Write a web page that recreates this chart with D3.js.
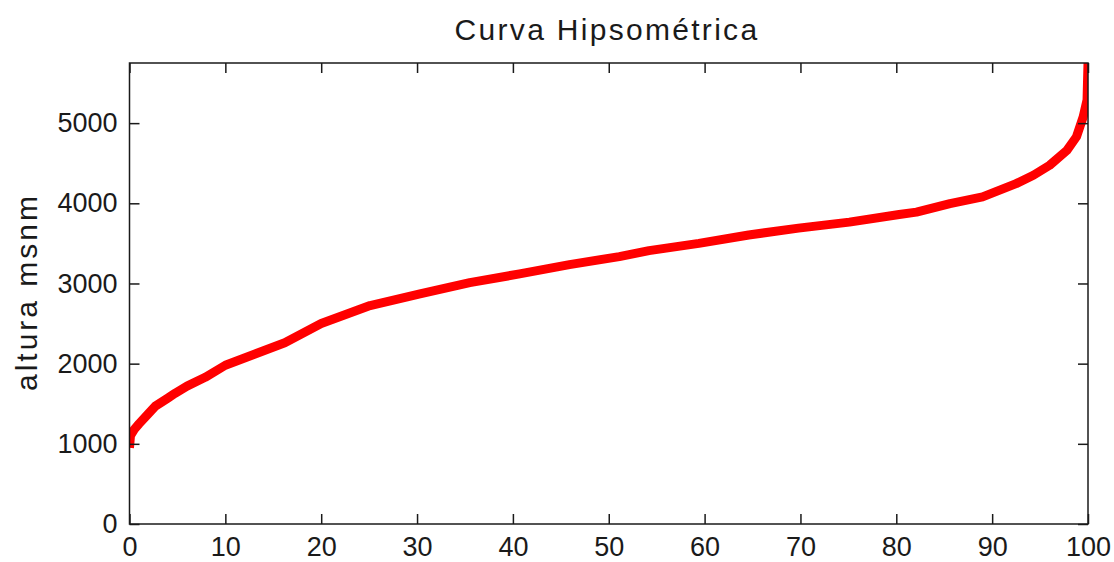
<!DOCTYPE html>
<html>
<head>
<meta charset="utf-8">
<script src="https://d3js.org/d3.v7.min.js"></script>
<style>
  body { margin: 0; background: #fff; }
  text { font-family: "Liberation Sans", Arial, sans-serif; fill: #1a1a1a; }
</style>
</head>
<body>
<div id="chart-area"></div>
<script>
// porcentaje de area acumulada vs altura
var pct = [0, 0.1, 0.5, 1, 2, 2.7, 4, 4.75, 6, 7.9, 10, 13.1, 16.2, 20, 25.1, 30.3,
           35.5, 40.7, 45.9, 51.1, 54.2, 59.4, 64.6, 69.8, 75.1, 80.3, 82.1, 85.6,
           89, 92.5, 94.3, 96, 97.8, 98.8, 99.5, 99.9, 100];
var altura = [950, 1100, 1180, 1250, 1380, 1470, 1570, 1630, 1720, 1830, 1980, 2120,
              2260, 2500, 2725, 2870, 3010, 3120, 3235, 3335, 3410, 3500, 3605, 3690,
              3765, 3860, 3890, 3995, 4080, 4245, 4350, 4475, 4660, 4830, 5080, 5290, 5750];

var xTicks = [0, 10, 20, 30, 40, 50, 60, 70, 80, 90, 100];
var yTicks = [0, 1000, 2000, 3000, 4000, 5000];

var titulo = "Curva Hipsométrica";
var yLabel = "altura msnm";

var margin = {top: 63, right: 26, bottom: 38, left: 129.5};
var width = 1114 - margin.left - margin.right,
    height = 562 - margin.top - margin.bottom;

var svg = d3.select("#chart-area")
    .append("svg")
    .attr("width", 1114)
    .attr("height", 562);

var g = svg.append("g")
    .attr("transform", "translate(" + margin.left + "," + margin.top + ")");

var x = d3.scaleLinear().domain([0, 100]).range([0, width]);
var y = d3.scaleLinear().domain([0, 5750]).range([height, 0]);

g.append("clipPath")
    .attr("id", "clip")
    .append("rect")
    .attr("width", width)
    .attr("height", height);

var datos = pct.map(function(p, i) { return {p: p, h: altura[i]}; });

var line = d3.line()
    .x(function(d) { return x(d.p); })
    .y(function(d) { return y(d.h); });

g.append("path")
    .datum(datos)
    .attr("clip-path", "url(#clip)")
    .attr("fill", "none")
    .attr("stroke", "#ff0000")
    .attr("stroke-width", 9)
    .attr("stroke-linejoin", "round")
    .attr("d", line);

// ejes tipo matlab: ticks hacia adentro en los cuatro lados
var tl = 10;
var fmt = d3.format("d");
function styleAxis(sel) {
    sel.select(".domain").remove();
    sel.selectAll(".tick line").attr("stroke", "#1a1a1a").attr("stroke-width", 1.5);
    sel.selectAll(".tick text").style("font-size", "27px").attr("fill", "#1a1a1a");
}

g.append("g")
    .attr("transform", "translate(0," + height + ")")
    .call(d3.axisBottom(x).tickValues(xTicks).tickSize(-tl).tickPadding(13).tickFormat(fmt))
    .call(styleAxis);

g.append("g")
    .call(d3.axisTop(x).tickValues(xTicks).tickSize(-tl).tickFormat(""))
    .call(styleAxis);

g.append("g")
    .call(d3.axisLeft(y).tickValues(yTicks).tickSize(-tl).tickPadding(12).tickFormat(fmt))
    .call(styleAxis);

g.append("g")
    .attr("transform", "translate(" + width + ",0)")
    .call(d3.axisRight(y).tickValues(yTicks).tickSize(-tl).tickFormat(""))
    .call(styleAxis);

g.append("rect")
    .attr("width", width)
    .attr("height", height)
    .attr("fill", "none")
    .attr("stroke", "#1a1a1a")
    .attr("stroke-width", 1.5);

svg.append("text")
    .attr("x", 607)
    .attr("y", 40)
    .attr("text-anchor", "middle")
    .style("font-size", "30px")
    .style("letter-spacing", "2.3px")
    .text(titulo);

svg.append("text")
    .attr("transform", "translate(37,292) rotate(-90)")
    .attr("text-anchor", "middle")
    .style("font-size", "30px")
    .style("letter-spacing", "3px")
    .text(yLabel);
</script>
</body>
</html>
